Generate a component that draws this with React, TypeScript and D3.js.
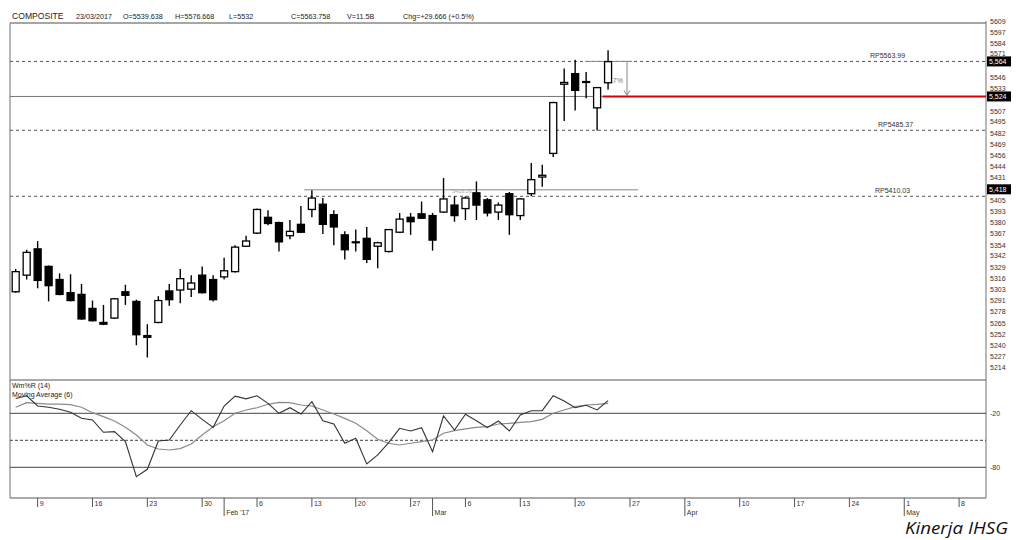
import React from 'react';
import * as d3 from 'd3';

// ---- data ----
const holidays = ['2017-02-15'];
const opens = [5301,5320,5350,5330,5315,5300,5298,5282,5266,5271,5301,5290,5251,5266,5302,5303,5304,5320,5315,5318,5324,5353,5368,5386,5380,5365,5378,5395,5401,5389,5366,5358,5362,5353,5347,5369,5386,5390,5388,5392,5400,5396,5414,5406,5392,5413,5388,5413,5432,5459,5538,5550,5541,5511,5539.638];
const highs = [5327,5349,5359,5331,5322,5321,5310,5291,5286,5294,5309,5292,5264,5296,5310,5327,5320,5330,5320,5340,5354,5365,5396,5394,5381,5383,5399,5417,5408,5394,5370,5372,5375,5358,5372,5391,5391,5404,5391,5431,5410,5410,5427,5408,5403,5415,5408,5448,5446,5518,5556,5566,5552,5533,5576.668];
const lows = [5300,5315,5305,5290,5297,5290,5269,5267,5263,5270,5286,5240,5226,5265,5285,5288,5295,5299,5290,5315,5323,5352,5367,5377,5347,5361,5368,5386,5367,5354,5338,5347,5334,5328,5346,5368,5366,5384,5348,5391,5381,5383,5383,5387,5383,5366,5383,5410,5421,5455,5496,5508,5522,5485,5532];
const closes = [5324,5346,5314,5308,5298,5291,5270,5268,5264,5293,5297,5252,5249,5291,5292,5316,5311,5300,5292,5325,5352,5359,5395,5379,5358,5370,5369,5408,5378,5375,5349,5357,5338,5357,5372,5384,5381,5385,5360,5407,5388,5408,5400,5391,5400,5389,5407,5429,5434,5517,5540,5531,5540,5534.09,5563.758];
const willR = [-3.5,-0.5,-11.9,-13.3,-15.5,-18.9,-25.6,-27.4,-41.1,-40.4,-51.5,-90.4,-82.2,-50.8,-49.7,-33,-17.1,-26.7,-35.6,-11.9,-1,-4,-0.5,-8.9,-20,-13.8,-20.8,-7.1,-28.2,-31.9,-53.3,-47.8,-76.3,-66.3,-52.6,-36.7,-39.7,-36,-62.6,-23,-38.6,-21.1,-28.2,-36,-28.6,-39.7,-21.9,-17.1,-17.1,-0.5,-6.3,-13.8,-11.1,-16.3,-5.9];
const willMA = [-13.3,-8.2,-8.9,-9.7,-9.7,-10.4,-13.3,-19.3,-23.7,-28.6,-35.6,-44.1,-55.2,-59.7,-60.8,-59.3,-54.1,-44.1,-34.9,-28.2,-20,-16.3,-13.8,-10,-7.8,-8.2,-10.8,-11.9,-16.3,-20.8,-25.6,-31.1,-39.3,-48.9,-53.3,-55.2,-53.3,-51.5,-49.7,-42.2,-39.3,-37.4,-35.6,-34.9,-31.9,-31.1,-30,-29.3,-26.7,-20,-16.3,-12.6,-10.8,-10,-8.9];
// labels visible on the price axis (those hidden behind the badges are left out)
const priceTicks = [5609,5597,5584,5571,5546,5533,5507,5495,5482,5469,5456,5444,5431,5405,5393,5380,5367,5354,5342,5329,5316,5303,5291,5278,5265,5252,5240,5227,5214];
const indTicks = [-20, -80];
const rpLevels = [5563.99, 5485.37, 5410.03];
const rpLabelX = [870, 878, 875];
const badgeLevels = [5564, 5524, 5418];
const redLevel = 5524;
const resistLevel = 5418;
const monthLabels: Record<number, string> = { 1: "Feb '17", 2: 'Mar', 3: 'Apr', 4: 'May' };
const headerItems = ['COMPOSITE', '23/03/2017', 'O=5539.638', 'H=5576.668', 'L=5532', 'C=5563.758', 'V=11.5B', 'Chg=+29.666 (+0.5%)'];

// ---- layout ----
const W = 1026, H = 540;
const L = 10, R = 986, T = 23, PB = 380, IB = 498;
const FONT = 'Liberation Sans, Arial, sans-serif';

const fmtDay = d3.timeFormat('%Y-%m-%d');
const days = d3.timeDay
  .range(new Date(2017, 0, 5), new Date(2017, 4, 12))
  .filter((d) => d.getDay() % 6 !== 0 && !holidays.includes(fmtDay(d)));

export default function App() {
  const x = d3.scaleLinear().domain([0, 86]).range([15.7, 959.1]);
  const y = d3.scaleLinear().domain([5214, 5609]).range([368, 22]);
  const yi = d3.scaleLinear().domain([-20, -80]).range([413.3, 467.3]);

  const lineR = d3.line<number>().x((_, i) => x(i)).y((v) => yi(v));
  const fmtComma = d3.format(',');

  const ticks: { i: number; day?: string; month?: string }[] = [];
  days.forEach((d, i) => {
    const t: { i: number; day?: string; month?: string } = { i };
    if (d.getDay() === 1) t.day = String(d.getDate());
    if (i > 0 && days[i - 1].getMonth() !== d.getMonth()) t.month = monthLabels[d.getMonth()];
    if (t.day || t.month) ticks.push(t);
  });

  const headerX = [12, 76, 123, 175, 229, 291, 347, 403];
  const cw = 7;

  return (
    <svg width={W} height={H} style={{ position: 'absolute', left: 0, top: 0, background: '#fff' }} fontFamily={FONT}>
      <defs>
        <clipPath id="indclip"><rect x={L} y={PB} width={R - L} height={IB - PB} /></clipPath>
      </defs>
      {/* header */}
      {headerItems.map((t, k) => (
        <text key={k} x={headerX[k]} y={19} fontSize={k === 0 ? 8.6 : 7.2} fill="#222">{t}</text>
      ))}
      {/* frame */}
      <line x1={L} x2={R} y1={T} y2={T} stroke="#888" strokeWidth={1.6} />
      <line x1={L} x2={L} y1={T} y2={IB} stroke="#888" strokeWidth={1.2} />
      <line x1={R} x2={R} y1={T - 2} y2={IB} stroke="#888" strokeWidth={1.2} />
      <line x1={L} x2={R} y1={PB} y2={PB} stroke="#555" strokeWidth={1} />
      <line x1={L} x2={R} y1={IB} y2={IB} stroke="#555" strokeWidth={1} />

      {/* price axis labels */}
      {priceTicks.map((v) => (
        <text key={v} x={990} y={y(v) - (v === 5571 ? 1.5 : 0)} dy="0.35em" fontSize={7} fill="#333">{v}</text>
      ))}

      {/* reference lines */}
      {rpLevels.map((v, k) => (
        <g key={v}>
          <line x1={L} x2={R} y1={y(v)} y2={y(v)} stroke="#555" strokeWidth={1} strokeDasharray="3,3" />
          <text x={rpLabelX[k]} y={y(v) - 3} fontSize={7} fill="#333">{'RP' + v.toFixed(2)}</text>
        </g>
      ))}
      <line x1={L} x2={x(53.5)} y1={y(redLevel)} y2={y(redLevel)} stroke="#777" strokeWidth={1} />
      <line x1={x(53.5)} x2={R} y1={y(redLevel)} y2={y(redLevel)} stroke="#e00000" strokeWidth={2} />
      <line x1={x(26.3)} x2={638} y1={y(resistLevel) + 0.5} y2={y(resistLevel) + 0.5} stroke="#888" strokeWidth={1} />
      <text x={452} y={y(resistLevel) + 4} fontSize={5.5} fill="#aaa">5418.26</text>
      {/* measure */}
      <line x1={585} x2={632} y1={y(5564)} y2={y(5564)} stroke="#888" strokeWidth={1} />
      <line x1={627} x2={627} y1={y(5564)} y2={y(redLevel) - 1} stroke="#888" strokeWidth={1} />
      <path d={`M624,${y(redLevel) - 6} L627,${y(redLevel) - 1} L630,${y(redLevel) - 6}`} fill="none" stroke="#888" strokeWidth={1} />
      <text x={607} y={83} fontSize={7} fill="#777">0.7%</text>

      {/* candles */}
      {closes.map((c, i) => {
        const o = opens[i];
        const up = c >= o;
        const top = y(Math.max(o, c));
        const bot = y(Math.min(o, c));
        const cx = x(i);
        return (
          <g key={i}>
            <line x1={cx} x2={cx} y1={y(highs[i])} y2={y(lows[i])} stroke="#000" strokeWidth={1.4} />
            <rect x={cx - cw / 2} y={top} width={cw} height={Math.max(bot - top, 0.6)} fill={up ? '#fff' : '#000'} stroke="#000" strokeWidth={1.3} />
          </g>
        );
      })}

      {/* badges */}
      {badgeLevels.map((v) => (
        <g key={v}>
          <rect x={987} y={y(v) - 5} width={24} height={10} fill="#000" />
          <text x={989} y={y(v)} dy="0.35em" fontSize={7} fill="#fff">{fmtComma(v)}</text>
        </g>
      ))}

      {/* indicator panel */}
      {indTicks.map((v) => (
        <g key={v}>
          <line x1={L} x2={R} y1={yi(v)} y2={yi(v)} stroke="#444" strokeWidth={1} />
          <text x={990} y={yi(v)} dy="0.35em" fontSize={7} fill="#333">{v}</text>
        </g>
      ))}
      <line x1={L} x2={R} y1={yi(-50)} y2={yi(-50)} stroke="#444" strokeWidth={1} strokeDasharray="3,2" />
      <g clipPath="url(#indclip)">
        <path d={lineR(willMA) || ''} fill="none" stroke="#8a8a8a" strokeWidth={1.2} />
        <path d={lineR(willR) || ''} fill="none" stroke="#333" strokeWidth={1.1} />
      </g>
      <text x={12} y={388} fontSize={7} fill="#222">Wm%R (14)</text>
      <text x={12} y={397} fontSize={7} fill="#222">Moving Average (6)</text>

      {/* x axis */}
      {ticks.map((t) => {
        const tx = x(t.i);
        return (
          <g key={t.i}>
            <line x1={tx} x2={tx} y1={IB} y2={t.month ? 516 : 507} stroke="#555" strokeWidth={1} />
            {t.day && <text x={tx + 2} y={506} fontSize={7} fill="#333">{t.day}</text>}
            {t.month && <text x={tx + 2} y={515} fontSize={7} fill="#333">{t.month}</text>}
          </g>
        );
      })}

      <text x={1008} y={534} textAnchor="end" fontSize={17} textLength={103} lengthAdjust="spacingAndGlyphs" fontStyle="italic" fontFamily="Open Sans, sans-serif" fill="#111">Kinerja IHSG</text>
    </svg>
  );
}
